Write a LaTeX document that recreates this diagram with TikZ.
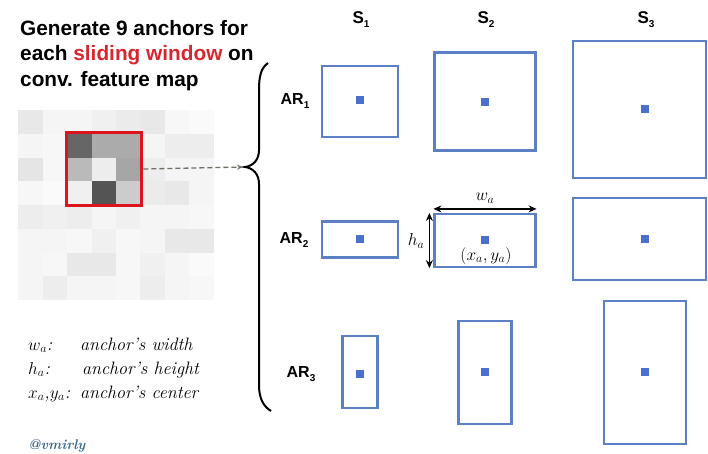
\documentclass[tikz,border=0pt]{standalone}
\usepackage{fontspec}
\setmainfont{Liberation Sans}
\newfontfamily\lmfont{Latin Modern Roman}
\usetikzlibrary{arrows.meta}
\definecolor{boxblue}{HTML}{5B80C6}
\definecolor{dotblue}{HTML}{4A6FCF}
\definecolor{winred}{HTML}{DC141C}
\definecolor{titlered}{HTML}{D7262E}
\definecolor{tagblue}{HTML}{3D6A8A}
\definecolor{dashgray}{HTML}{6B7265}
\begin{document}
\begin{tikzpicture}[x=1pt,y=-1pt,
  anchorbox/.style={draw=boxblue,line width=2.2pt,inner sep=0pt,fill=white},
  cdot/.style={fill=dotblue,minimum size=8pt,inner sep=0pt},
  colhead/.style={font=\bfseries\fontsize{17}{20}\selectfont},
  rowhead/.style={font=\bfseries\fontsize{16}{19}\selectfont},
  legtext/.style={font=\lmfont\itshape\fontsize{18}{22}\selectfont,anchor=base west,inner sep=0pt},
  dimarrow/.style={{Stealth[length=8pt,width=7pt]}-{Stealth[length=8pt,width=7pt]},line width=1.8pt,black},
  bracestyle/.style={line width=2pt,black}]
\useasboundingbox (0,0) rectangle (708,453);
\fill[white] (0,0) rectangle (708,453);

% title
\node[anchor=base west,align=left,inner sep=0pt,font=\bfseries\fontsize{20.8}{25.5}\selectfont] (title) at (20,86)
 {Generate 9 anchors for\\each \textcolor{titlered}{sliding window} on\\conv. feature map};

% feature map grid
\foreach \g [count=\i from 0] in {
 9,4,4,6,8,9,3,2,
 4,3,60,33,33,4,7,7,
 10,3,27,7,35,7,4,4,
 3,2,6,67,20,8,9,4,
 7,6,7,4,6,4,4,3,
 4,4,3,6,3,4,9,9,
 4,3,9,9,3,6,4,2,
 4,7,4,4,3,7,4,3}{
  \pgfmathtruncatemacro\cc{mod(\i,8)}
  \pgfmathtruncatemacro\rr{\i/8}
  \fill[black!\g] (18.3+\cc*24.4,110+\rr*23.75) rectangle ++(24.6,23.95);
}
\node[draw=winred,line width=3.8pt,minimum width=75pt,minimum height=73pt,inner sep=0pt] (win) at (104,169) {};

% brace
\coordinate (tip) at (245,167);
\draw[bracestyle] (268,63) .. controls (261,68) and (259,76) .. (259,90) -- (259,150)
  .. controls (259,160) and (253,166) .. (tip)
  .. controls (253,168) and (259,174) .. (259,184) -- (259,385)
  .. controls (259,398) and (263,406) .. (271,411);
\draw[dash pattern=on 5pt off 3pt,line width=1.3pt,dashgray,-{Stealth[length=6pt,width=5pt]}] (win.east) -- ([xshift=-2pt]tip);

% column and row heads
\node[colhead] (s1) at (361,20) {S\raisebox{-0.45ex}{\fontsize{10}{12}\selectfont 1}};
\node[colhead] (s2) at (486,20) {S\raisebox{-0.45ex}{\fontsize{10}{12}\selectfont 2}};
\node[colhead] (s3) at (646,20) {S\raisebox{-0.45ex}{\fontsize{10}{12}\selectfont 3}};
\node[rowhead] (ar1) at (295,101) {AR\raisebox{-0.45ex}{\fontsize{10}{12}\selectfont 1}};
\node[rowhead] (ar2) at (294,240) {AR\raisebox{-0.45ex}{\fontsize{10}{12}\selectfont 2}};
\node[rowhead] (ar3) at (301,374) {AR\raisebox{-0.45ex}{\fontsize{10}{12}\selectfont 3}};

% anchors
\node[anchorbox,minimum width=76pt,minimum height=71pt] (b11) at (360,101.5) {};
\node[anchorbox,minimum width=101pt,minimum height=98pt] (b21) at (485,101.5) {};
\node[anchorbox,minimum width=133pt,minimum height=137pt] (b31) at (639.5,109.5) {};
\node[anchorbox,minimum width=76pt,minimum height=36pt] (b12) at (360,239.5) {};
\node[anchorbox,minimum width=101pt,minimum height=53pt] (b22) at (485,240.5) {};
\node[anchorbox,minimum width=133pt,minimum height=82pt] (b32) at (639.5,239) {};
\node[anchorbox,minimum width=35pt,minimum height=72pt] (b13) at (360,372) {};
\node[anchorbox,minimum width=53pt,minimum height=103pt] (b23) at (485,372.5) {};
\node[anchorbox,minimum width=82pt,minimum height=143pt] (b33) at (645,372.5) {};

\node[cdot] (d11) at (360,100) {};
\node[cdot] (d21) at (485,102) {};
\node[cdot] (d31) at (645,109) {};
\node[cdot] (d12) at (360,239) {};
\node[cdot] (d22) at (485,240) {};
\node[cdot] (d32) at (645,239) {};
\node[cdot] (d13) at (360,374) {};
\node[cdot] (d23) at (485,372) {};
\node[cdot] (d33) at (645,372) {};

% dimensions
\draw[dimarrow] ([yshift=4pt]b22.north west) -- ([yshift=4pt]b22.north east);
\draw[dimarrow] ([xshift=-4pt]b22.north west) -- ([xshift=-4pt]b22.south west);
\node[font=\lmfont\itshape\fontsize{18}{20}\selectfont] (wa) at (485,198) {$w_{\scriptstyle a}$};
\node[font=\lmfont\itshape\fontsize{18}{20}\selectfont] (ha) at (416,241) {$h_{\scriptstyle a}$};
\node[font=\lmfont\fontsize{17}{20}\selectfont] (xy) at (486,256) {$(x_{a},y_{a})$};

% legend
\node[legtext] (l1a) at (28,350) {$w_a$:};
\node[legtext] (l1b) at (80,350) {anchor’s width};
\node[legtext] (l2a) at (28,374) {$h_a$:};
\node[legtext] (l2b) at (82,374) {anchor’s height};
\node[legtext] (l3a) at (28,398) {$x_a$,$y_a$:};
\node[legtext] (l3b) at (80,398) {anchor’s center};

\node[anchor=base west,inner sep=0pt,text=tagblue,font=\lmfont\bfseries\itshape\fontsize{14}{16}\selectfont] (tag) at (28,449) {@vmirly};
\end{tikzpicture}
\end{document}
